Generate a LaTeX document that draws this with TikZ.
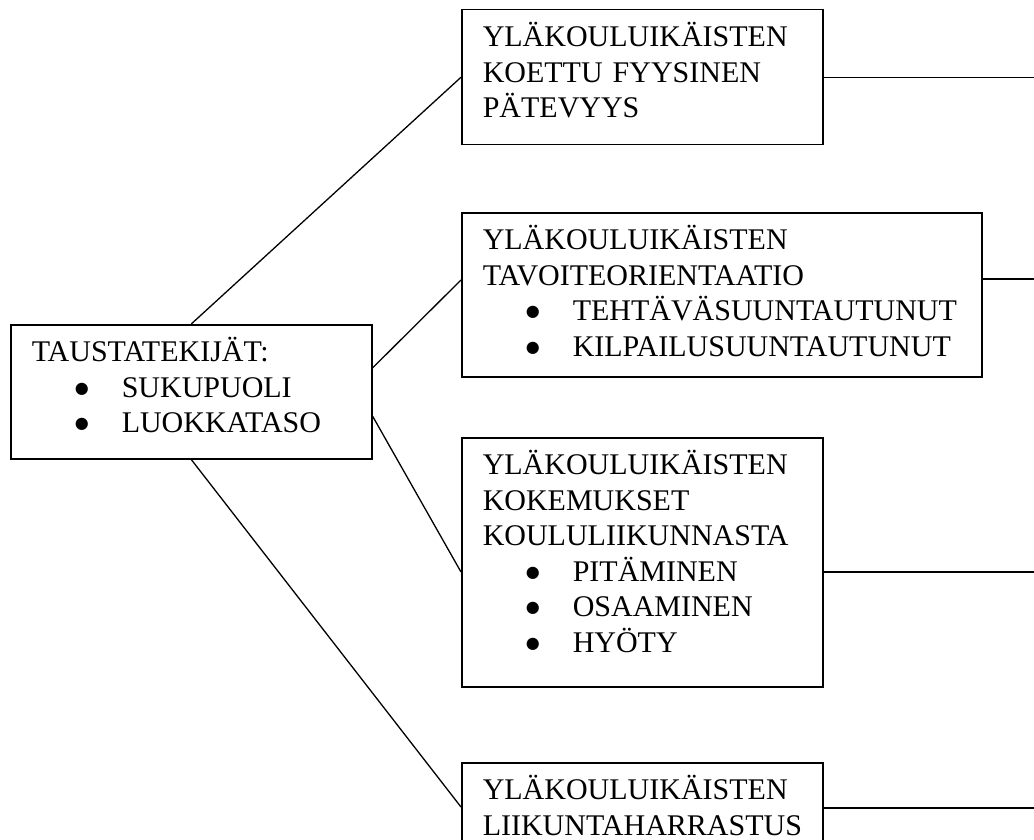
\documentclass[tikz,border=0pt]{standalone}
\usepackage{fontspec}
\setmainfont{Liberation Serif}
\newfontfamily\symfont{DejaVu Sans}
\newcommand{\bul}{\hspace*{43pt}\makebox[47pt][l]{\raisebox{4pt}{\symfont\fontsize{16}{16}\selectfont ●}}}
\begin{document}
\begin{tikzpicture}[x=1pt,y=-1pt,font={\fontsize{30}{35.5}\selectfont},box/.style={draw,line width=1.5pt,anchor=north west,align=left,inner xsep=21pt,inner ysep=0pt,text height=37pt},link/.style={line width=1.3pt}]
\useasboundingbox (0,0) rectangle (1034,840);
\node[box,text width=319pt,text depth=97pt] (tausta) at (10,324) {TAUSTATEKIJÄT:\\\bul SUKUPUOLI\\\bul LUOKKATASO};
\node[box,text width=319pt,text depth=98pt] (fyys) at (461,9) {YLÄKOULUIKÄISTEN\\KOETTU FYYSINEN\\PÄTEVYYS};
\node[box,text width=478pt,text depth=127pt] (tavoite) at (461,212) {YLÄKOULUIKÄISTEN\\TAVOITEORIENTAATIO\\\bul TEHTÄVÄSUUNTAUTUNUT\\\bul KILPAILUSUUNTAUTUNUT};
\node[box,text width=319pt,text depth=212pt] (kokem) at (461,437) {YLÄKOULUIKÄISTEN\\KOKEMUKSET\\KOULULIIKUNNASTA\\\bul PITÄMINEN\\\bul OSAAMINEN\\\bul HYÖTY};
\node[box,text width=319pt,text depth=120pt] (harr) at (461,762) {YLÄKOULUIKÄISTEN\\LIIKUNTAHARRASTUS};
\draw[link] (tausta.north) -- (fyys.west);
\draw[link] ([yshift=-44pt]tausta.north east) -- ([yshift=-68pt]tavoite.north west);
\draw[link] ([yshift=-92pt]tausta.north east) -- ([yshift=-135pt]kokem.north west);
\draw[link] (tausta.south) -- ([yshift=-45pt]harr.north west);
% lines out to the right edge
\coordinate (rim) at (1034,0);
\coordinate (tavoiteR) at ([yshift=-67pt]tavoite.north east);
\coordinate (kokemR) at ([yshift=-135pt]kokem.north east);
\coordinate (harrR) at ([yshift=-46pt]harr.north east);
\draw[link] (fyys.east) -- (fyys.east -| rim);
\draw[link] (tavoiteR) -- (tavoiteR -| rim);
\draw[link] (kokemR) -- (kokemR -| rim);
\draw[link] (harrR) -- (harrR -| rim);
\end{tikzpicture}
\end{document}
